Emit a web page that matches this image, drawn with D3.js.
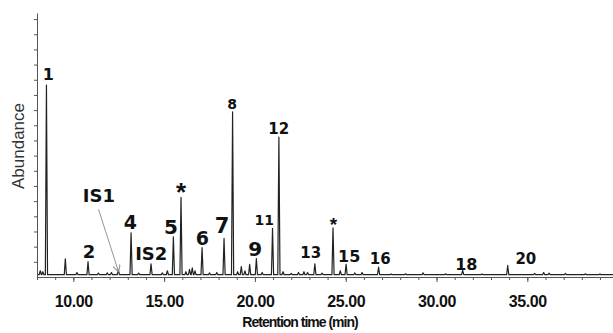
<!DOCTYPE html>
<html>
<head>
<meta charset="utf-8">
<script src="https://cdn.jsdelivr.net/npm/d3@7"></script>
<style>
  body { margin: 0; background: #fff; }
  svg { display: block; }
</style>
</head>
<body>
<script>
// peaks: retention time (min) and abundance (arbitrary units, 1 unit = 1 y tick)
const peakTimes = [8.18, 8.32, 8.52, 9.56, 10.2, 10.81, 11.38, 11.87, 12.1, 12.48, 13.18, 13.6, 14.28, 14.9, 15.18,
  15.51, 15.93, 16.2, 16.4, 16.55, 16.7, 17.09, 17.5, 17.9, 18.3, 18.77, 19.05, 19.25, 19.45, 19.71, 20.08, 20.4,
  20.97, 21.32, 21.55, 22.0, 22.4, 22.7, 22.9, 23.3, 23.7, 24.3, 24.7, 25.02, 25.5, 25.9, 26.81, 27.5, 28.3, 29.26,
  30.5, 31.44, 32.5, 33.92, 35.4, 35.9, 36.2, 37.1, 38.2, 39.0];
const peakHeights = [0.26, 0.2, 12.5, 1.05, 0.15, 0.86, 0.1, 0.12, 0.15, 0.31, 2.76, 0.1, 0.72, 0.12, 0.26,
  2.5, 5.1, 0.2, 0.35, 0.46, 0.25, 1.78, 0.12, 0.15, 2.39, 10.73, 0.2, 0.53, 0.25, 0.68, 1.07, 0.15,
  3.05, 9.07, 0.2, 0.08, 0.15, 0.2, 0.15, 0.72, 0.1, 3.09, 0.26, 0.68, 0.12, 0.15, 0.51, 0.05, 0.06, 0.12,
  0.06, 0.28, 0.05, 0.61, 0.08, 0.14, 0.1, 0.08, 0.06, 0.05];
const baselineLevel = 0.15;

// peak labels: text, retention time of its centre, abundance at its baseline
const labelTexts = ["1", "2", "IS1", "4", "IS2", "5", "*", "6", "7", "8", "9", "11", "12", "13", "*", "15", "16", "18", "20"];
const labelTimes = [8.62, 10.87, 11.41, 13.14, 14.29, 15.37, 15.93, 17.1, 18.19, 18.74, 20.02, 20.52, 21.31, 23.07, 24.32, 25.19, 26.9, 31.64, 34.92];
const labelLevels = [12.97, 1.23, 4.96, 3.14, 1.12, 2.83, 4.98, 2.11, 2.88, 11.04, 1.38, 3.42, 9.41, 1.23, 3.0, 0.97, 0.86, 0.46, 0.86];

// arrow from IS1 label down to its peak
const arrowFrom = [11.39, 4.46];
const arrowTo = [12.49, 0.35];

const majorTicks = [10, 15, 20, 25, 30, 35];
const minorTicks = d3.range(8, 40);
const yTicks = d3.range(1, 18);

// styling
const labelSizes = [16, 18, 18, 19, 18, 20, 26, 19, 21, 14, 20, 14, 15, 15, 19, 16, 15, 16, 15];
const axisColor = "#555";
const traceColor = "#222";

const width = 613, height = 333;
const margin = { left: 37, top: 13, bottom: 56 };

const x = d3.scaleLinear().domain([8, 40]).range([margin.left, margin.left + 32 * 18.16]);
const y = d3.scaleLinear().domain([0, 17.4]).range([height - margin.bottom, margin.top]);

const svg = d3.select("body").append("svg")
    .attr("width", width)
    .attr("height", height)
    .attr("viewBox", [0, 0, width, height]);

svg.append("rect").attr("width", width).attr("height", height).attr("fill", "#fff");

// chromatogram trace: each peak drawn as a narrow spike on the baseline
const halfWidth = 0.06;
let trace = [[8, baselineLevel]];
peakTimes.forEach((t, i) => {
  trace.push([t - halfWidth, baselineLevel]);
  trace.push([t, baselineLevel + peakHeights[i]]);
  trace.push([t + halfWidth, baselineLevel]);
});
trace.push([40, baselineLevel]);

const line = d3.line()
    .x(d => x(d[0]))
    .y(d => y(d[1]));

svg.append("path")
    .datum(trace)
    .attr("fill", "none")
    .attr("stroke", traceColor)
    .attr("stroke-width", 1.2)
    .attr("stroke-linejoin", "round")
    .attr("d", line);

// axes
const xMinor = svg.append("g")
    .attr("transform", `translate(0, ${y(0)})`)
    .call(d3.axisBottom(x).tickValues(minorTicks).tickSize(3).tickSizeOuter(0).tickFormat(""));

const xMajor = svg.append("g")
    .attr("transform", `translate(0, ${y(0)})`)
    .call(d3.axisBottom(x).tickValues(majorTicks).tickSize(5).tickSizeOuter(0).tickPadding(14)
      .tickFormat(d3.format(".2f")));

xMajor.selectAll("text")
    .style("font", "bold 16px 'Liberation Sans', Arial, sans-serif")
    .style("letter-spacing", "-0.4px")
    .attr("fill", "#111");

const yAxis = svg.append("g")
    .attr("transform", `translate(${margin.left}, 0)`)
    .call(d3.axisLeft(y).tickValues(yTicks).tickSize(3).tickSizeOuter(0).tickFormat(""));

[xMinor, xMajor, yAxis].forEach(g => {
  g.selectAll("path, line").attr("stroke", axisColor);
});

// axis titles
svg.append("text")
    .attr("transform", `translate(24, 146) rotate(-90)`)
    .attr("text-anchor", "middle")
    .style("font", "17px 'Liberation Sans', Arial, sans-serif")
    .attr("fill", "#333")
    .text("Abundance");

svg.append("text")
    .attr("x", 300)
    .attr("y", 327)
    .attr("text-anchor", "middle")
    .style("font", "bold 14px 'Liberation Sans', Arial, sans-serif")
    .style("letter-spacing", "-1px")
    .attr("fill", "#111")
    .text("Retention time (min)");

// IS1 arrow
svg.append("defs").append("marker")
    .attr("id", "head")
    .attr("viewBox", "0 0 8 8")
    .attr("refX", 7)
    .attr("refY", 4)
    .attr("markerWidth", 8)
    .attr("markerHeight", 8)
    .attr("markerUnits", "userSpaceOnUse")
    .attr("orient", "auto")
  .append("path")
    .attr("d", "M0,0 L7,4 L0,8")
    .attr("fill", "none")
    .attr("stroke", "#888")
    .attr("stroke-width", 1);

svg.append("line")
    .attr("x1", x(arrowFrom[0]))
    .attr("y1", y(arrowFrom[1]))
    .attr("x2", x(arrowTo[0]))
    .attr("y2", y(arrowTo[1]))
    .attr("stroke", "#888")
    .attr("stroke-width", 0.9)
    .attr("marker-end", "url(#head)");

// peak labels (asterisks use the heavier Arial-style glyph)
svg.append("g")
  .selectAll("text")
  .data(labelTexts)
  .join("text")
    .attr("x", (d, i) => x(labelTimes[i]))
    .attr("y", (d, i) => y(labelLevels[i]))
    .attr("text-anchor", "middle")
    .style("font-family", d => d === "*" ? "'Liberation Sans', Arial, sans-serif" : "'DejaVu Sans', sans-serif")
    .style("font-weight", "bold")
    .style("font-size", (d, i) => labelSizes[i] + "px")
    .attr("fill", "#111")
    .text(d => d);
</script>
</body>
</html>
